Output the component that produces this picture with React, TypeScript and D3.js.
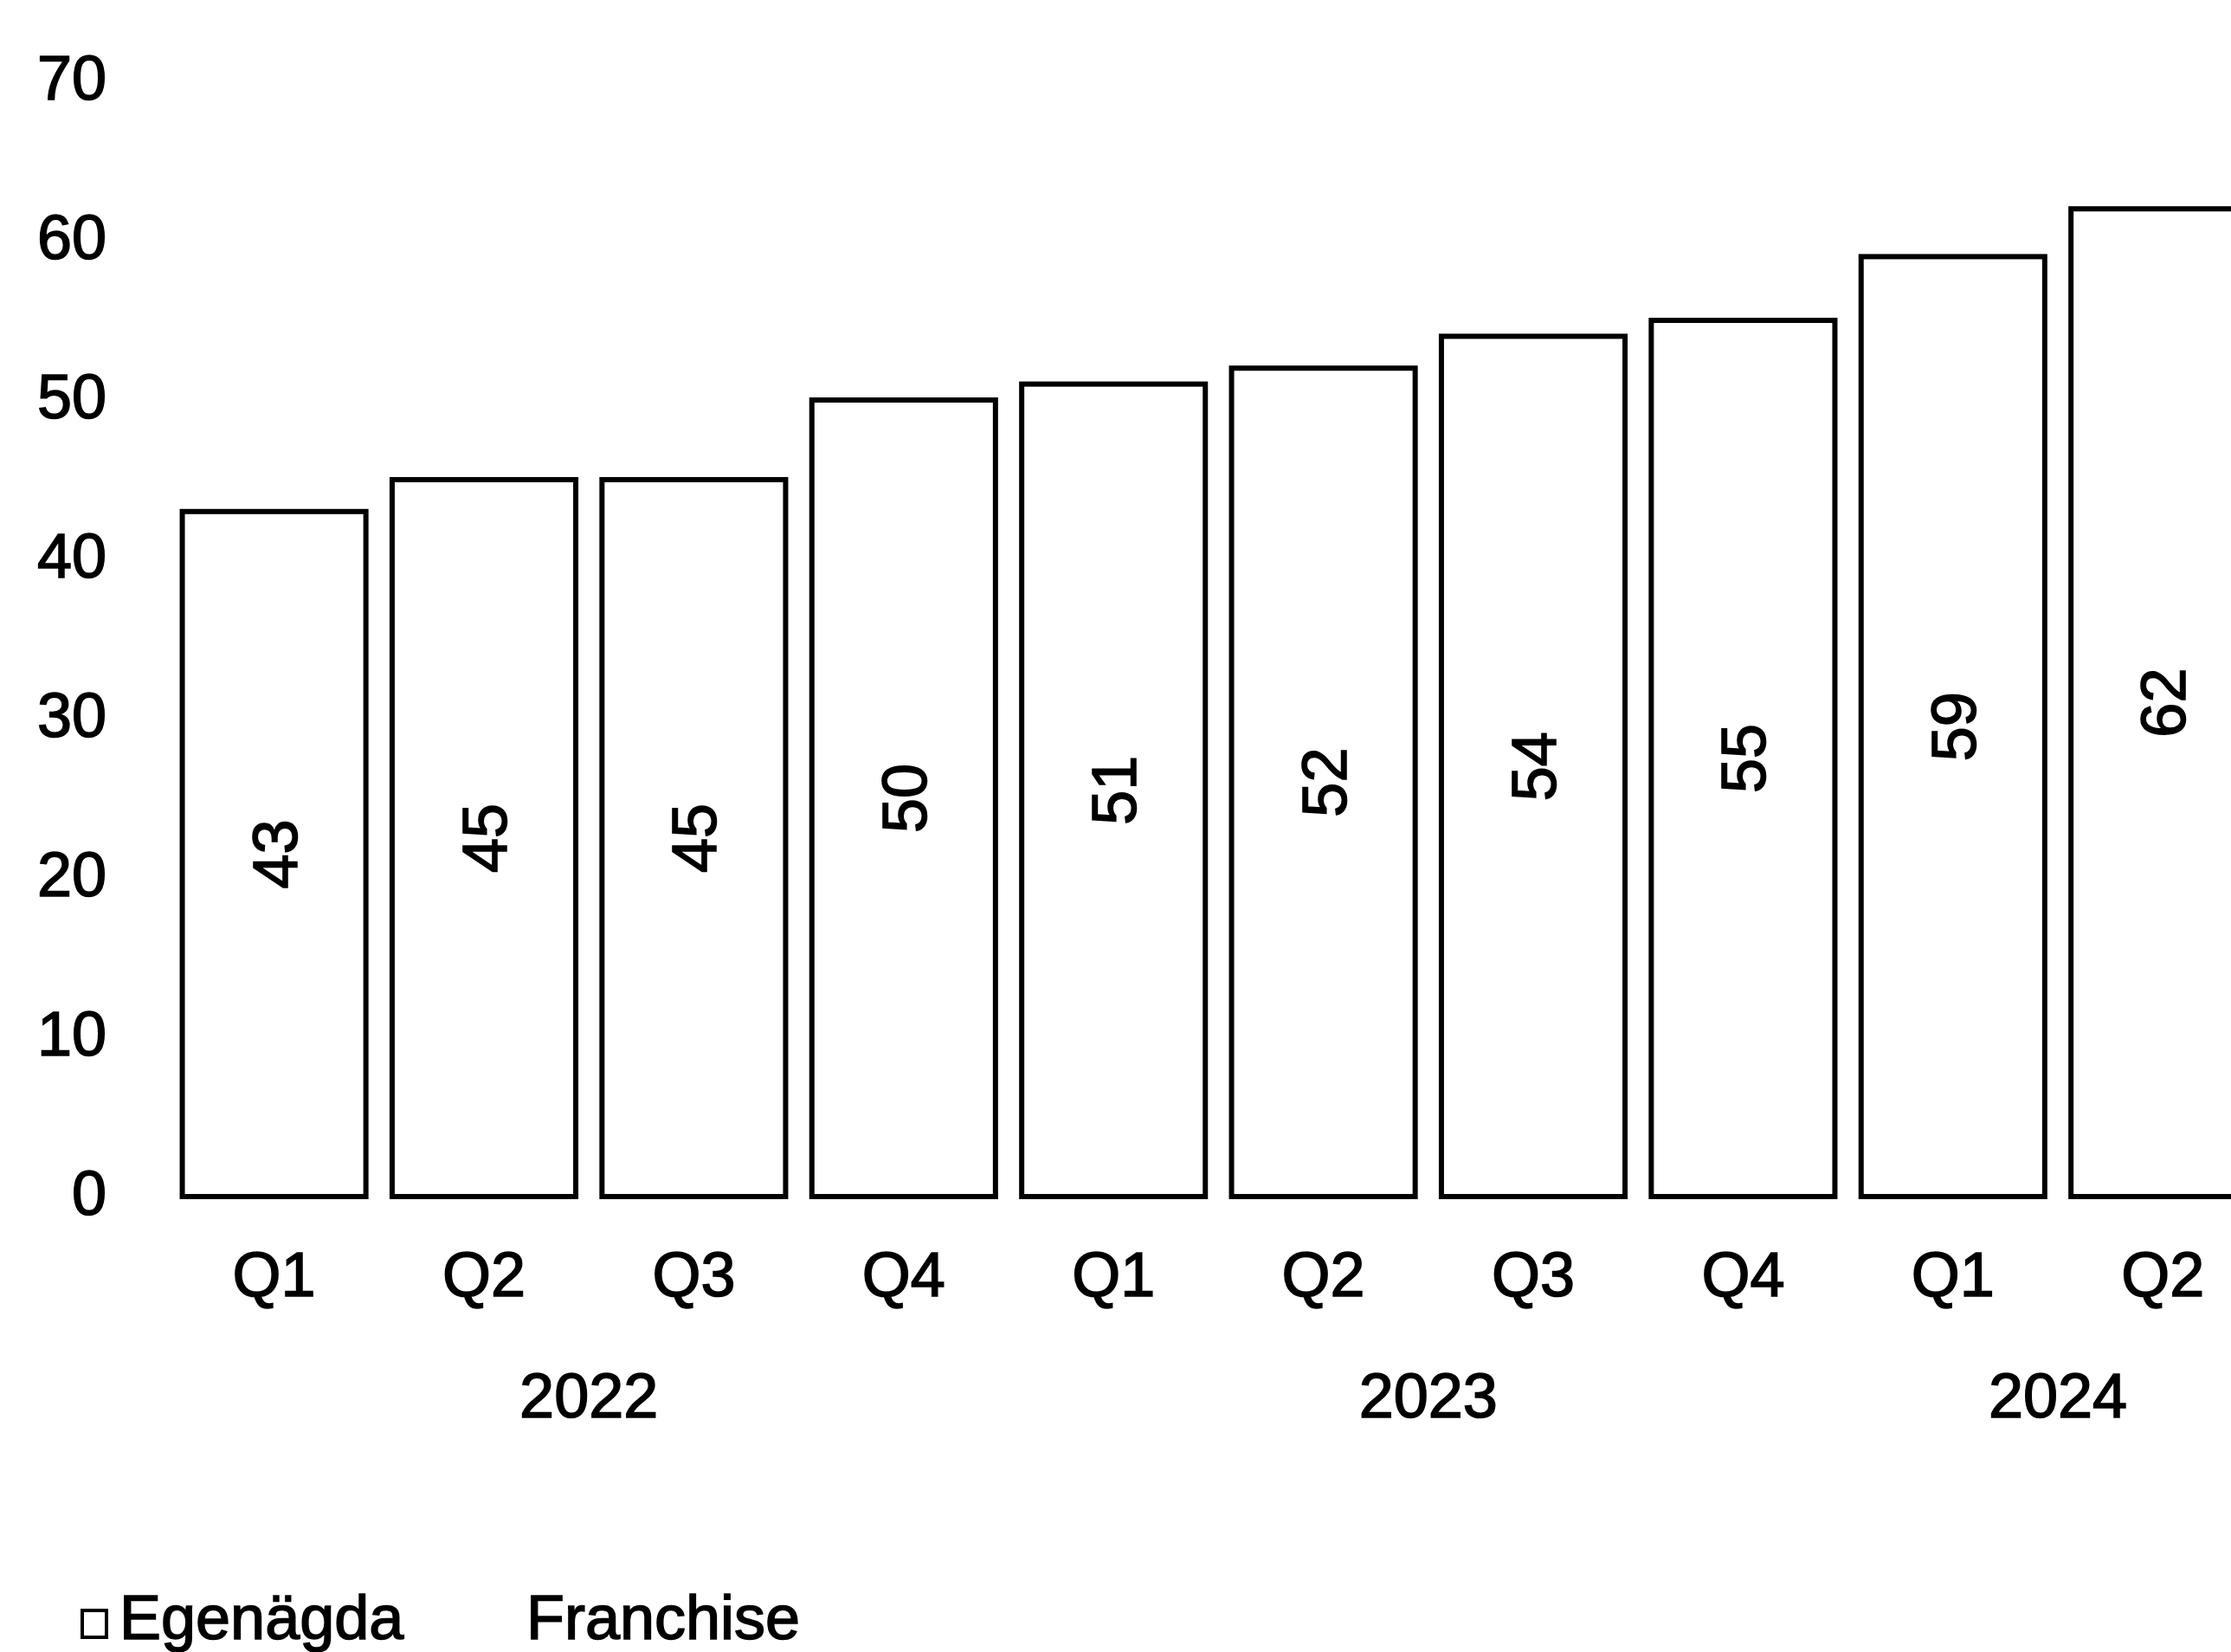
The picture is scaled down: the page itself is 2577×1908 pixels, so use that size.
import React from "react";
import * as d3 from "d3";

const quarters = ["Q1", "Q2", "Q3", "Q4", "Q1", "Q2", "Q3", "Q4", "Q1", "Q2"];
const years = ["2022", "2022", "2022", "2022", "2023", "2023", "2023", "2023", "2024", "2024"];
const egenagda = [43, 45, 45, 50, 51, 52, 54, 55, 59, 62];
const yTicks = [0, 10, 20, 30, 40, 50, 60, 70];
const legendLabels = ["Egenägda", "Franchise"];

const W = 2577;
const H = 1908;
const FONT = "'Liberation Sans', Arial, Helvetica, sans-serif";

export default function App() {
  const ids = quarters.map((_, i) => String(i));
  const x = d3
    .scaleBand<string>()
    .domain(ids)
    .range([195.4, 2619.4])
    .paddingInner(0.125)
    .paddingOuter(0.0625);
  const y = d3.scaleLinear().domain([0, 70]).range([1382, 94]);

  const yearGroups = d3.groups(
    ids.map((id, i) => ({ id, year: years[i] })),
    (d) => d.year
  );

  const textProps = { fontSize: 72, fill: "#000", stroke: "#000", strokeWidth: 1.6 };

  return (
    <svg
      width={W}
      height={H}
      style={{ position: "absolute", left: 0, top: 0, background: "#fff" }}
      fontFamily={FONT}
    >
      <rect x={0} y={0} width={W} height={H} fill="#fff" />
      {yTicks.map((t) => (
        <text key={t} x={123} y={y(t) + 21} textAnchor="end" {...textProps}>
          {t}
        </text>
      ))}
      {egenagda.map((v, i) => {
        const bx = x(ids[i]) as number;
        const bw = x.bandwidth();
        return (
          <g key={i}>
            <rect
              x={bx}
              y={y(v)}
              width={bw}
              height={y(0) - y(v)}
              fill="#fff"
              stroke="#000"
              strokeWidth={6}
            />
            <text
              transform={`translate(${bx + bw / 2},${(y(v) + y(0)) / 2}) rotate(-90)`}
              textAnchor="middle"
              dy="0.36em"
              {...textProps}
            >
              {v}
            </text>
          </g>
        );
      })}
      {quarters.map((q, i) => (
        <text
          key={"q" + i}
          x={(x(ids[i]) as number) + x.bandwidth() / 2}
          y={1497}
          textAnchor="middle"
          {...textProps}
        >
          {q}
        </text>
      ))}
      {yearGroups.map(([yr, items]) => {
        const cx = d3.mean(items, (d) => (x(d.id) as number) + x.bandwidth() / 2) as number;
        return (
          <text key={yr} x={cx} y={1637} textAnchor="middle" {...textProps}>
            {yr}
          </text>
        );
      })}
      <rect x={95} y={1860} width={28} height={31} fill="#fff" stroke="#000" strokeWidth={4} />
      <text x={138} y={1893} {...textProps}>
        {legendLabels[0]}
      </text>
      <text x={608} y={1893} {...textProps}>
        {legendLabels[1]}
      </text>
    </svg>
  );
}
